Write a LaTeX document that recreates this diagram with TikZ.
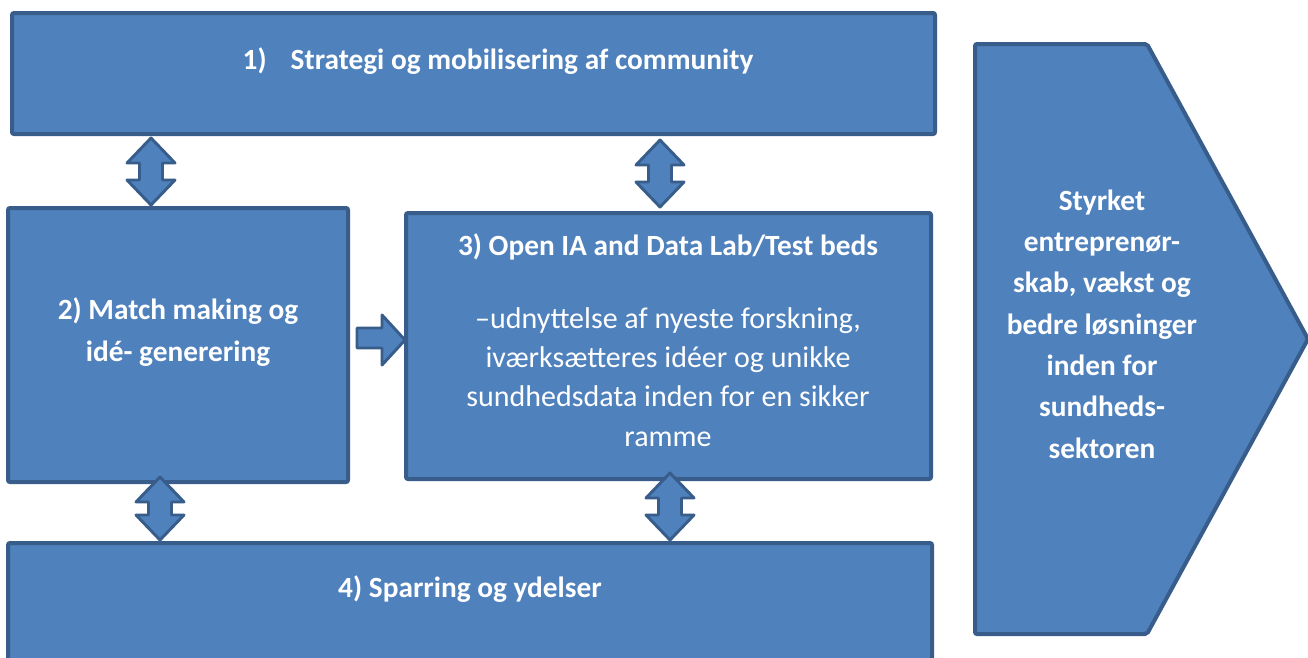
\documentclass[tikz,border=0pt]{standalone}
\usepackage{fontspec}
\setmainfont{Carlito}
\definecolor{boxfill}{HTML}{4F81BD}
\definecolor{boxline}{HTML}{385D8A}
\newcommand\vdarrow[3]{% center x, top y, bottom y
  \draw[arr] (#1,#2) -- ({#1+24},{#2+25}) -- ({#1+11.5},{#2+25}) -- ({#1+11.5},{#3-25})
    -- ({#1+24},{#3-25}) -- (#1,#3) -- ({#1-24},{#3-25}) -- ({#1-11.5},{#3-25})
    -- ({#1-11.5},{#2+25}) -- ({#1-24},{#2+25}) -- cycle;}
\begin{document}
\begin{tikzpicture}[x=0.75pt,y=-0.75pt,
  blk/.style={fill=boxfill,draw=boxline,line width=3pt,rounded corners=1.5pt,inner sep=0pt},
  arr/.style={fill=boxfill,draw=boxline,line width=2.2pt,line join=round},
  lbl/.style={text=white,font=\bfseries\fontsize{22}{31}\selectfont,align=center,inner sep=0pt},
  body/.style={text=white,font=\fontsize{22.5}{29.5}\selectfont,align=center,inner sep=0pt}]
\clip (0,0) rectangle (1308,657);
\fill[white] (0,0) rectangle (1308,657);
% boxes
\node[blk,minimum width=692.25pt,minimum height=90.75pt] (s1) at (473.5,73.5) {};
\node[blk,minimum width=255pt,minimum height=205.5pt] (s2) at (178,345) {};
\node[blk,minimum width=393.75pt,minimum height=199.5pt] (s3) at (668.5,346) {};
\node[blk,minimum width=693pt,minimum height=90.75pt] (s4) at (470,603.5) {};
\draw[blk] (975,44) -- (1147,44) -- (1308,339) -- (1147,634) -- (975,634) -- cycle;
\coordinate (chev) at (1102,324);
% arrows
\vdarrow{151}{138}{205}
\vdarrow{660}{140}{207}
\vdarrow{160}{477}{540}
\vdarrow{670}{473}{540}
\draw[arr] (357,328) -- (382,328) -- (382,315) -- (405,340) -- (382,365) -- (382,348) -- (357,348) -- cycle;
% texts
\node[lbl] (t1) at (498,61) {1)\hspace{18pt}Strategi og mobilisering af community};
\node[lbl] (t2) at (178,332) {2) Match making og\\idé- generering};
\node[lbl] (t3) at (668,247) {3) Open IA and Data Lab/Test beds};
\node[body] (t3b) at (668,377) {–udnyttelse af nyeste forskning,\\iværksætteres idéer og unikke\\sundhedsdata inden for en sikker\\ramme};
\node[lbl] (t4) at (470,589) {4) Sparring og ydelser};
\node[lbl] (t5) at (chev) {Styrket\\entreprenør-\\skab, vækst og\\bedre løsninger\\inden for\\sundheds-\\sektoren};
\end{tikzpicture}
\end{document}
